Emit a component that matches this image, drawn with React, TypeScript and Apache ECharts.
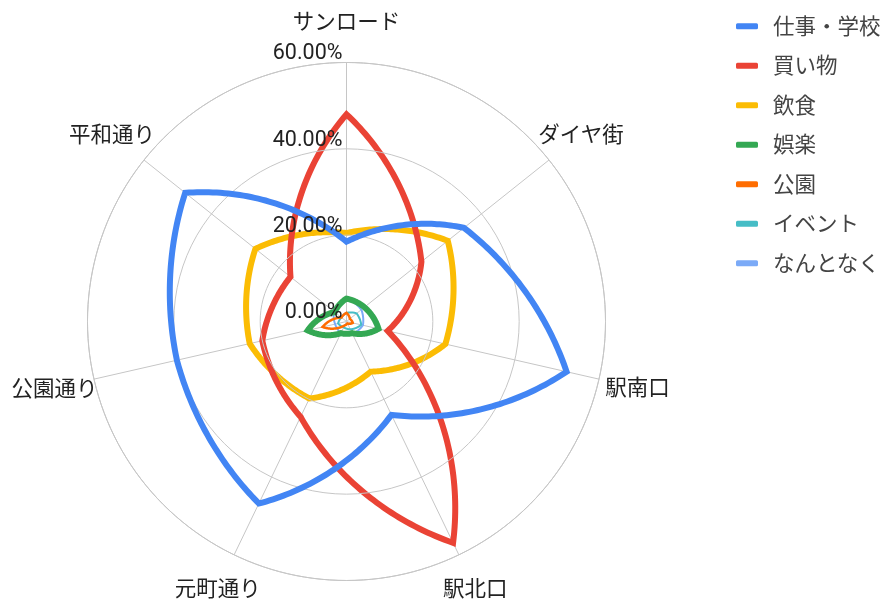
import React, { useEffect, useRef } from 'react';
import * as echarts from 'echarts';

// Axis order (clockwise from top)
const categories = ['サンロード', 'ダイヤ街', '駅南口', '駅北口', '元町通り', '公園通り', '平和通り'];
const seriesNames = ['仕事・学校', '買い物', '飲食', '娯楽', '公園', 'イベント', 'なんとなく'];

// Values in percent
const work = [18.5, 34.8, 52.3, 24.0, 46.8, 40.3, 47.8];
const shopping = [48.0, 22.2, 9.8, 56.9, 24.5, 20.0, 16.6];
const food = [20.5, 30.0, 23.5, 12.9, 19.8, 23.0, 27.0];
const entertainment = [5.3, 5.3, 7.6, 3.0, 3.0, 9.2, 3.5];
const park = [2.0, 1.0, 1.5, 0.5, 1.0, 5.7, 1.5];
const event = [2.0, 3.0, 3.5, 2.0, 1.5, 2.0, 1.5];
const nothing = [5.3, 4.4, 3.9, 3.2, 3.0, 2.7, 3.7];

const seriesValues = [work, shopping, food, entertainment, park, event, nothing];
const colors = ['#4285f4', '#ea4335', '#fbbc04', '#34a853', '#ff6d01', '#46bdc6', '#7baaf7'];
const lineWidths = [6, 6, 6, 6, 2.5, 2, 2];

const radiusMin = 0;
const radiusMax = 60;
const radiusStep = 20;

const FONT = "Roboto, 'Noto Sans CJK JP', sans-serif";
const FS = 21.5;
const R = 259;
const LABEL_DIST = [300.5, 300, 298.5, 296.5, 296.5, 299.5, 300];
const BLEND = 0.55; // how far the curve bows from chord toward the polar spiral
const GRID = '#c6c6c6';

function makeRenderItem(color: string, lw: number) {
  return (params: any, api: any) => {
    if (params.dataIndexInside !== 0) return null;
    const n = params.dataInsideLength;
    const pts: number[][] = [];
    const steps = 48;
    for (let i = 0; i < n; i++) {
      const j = (i + 1) % n;
      const r0 = api.value(0, i);
      const a0 = api.value(1, i);
      const r1 = api.value(0, j);
      const a1 = j === 0 ? n : api.value(1, j);
      const p0 = api.coord([r0, a0]);
      const p1 = api.coord([r1, a1]);
      for (let k = 0; k < steps; k++) {
        const t = k / steps;
        const sp = api.coord([r0 + (r1 - r0) * t, a0 + (a1 - a0) * t]);
        const cx = p0[0] + (p1[0] - p0[0]) * t;
        const cy = p0[1] + (p1[1] - p0[1]) * t;
        pts.push([cx + (sp[0] - cx) * BLEND, cy + (sp[1] - cy) * BLEND]);
      }
    }
    return {
      type: 'polygon',
      shape: { points: pts },
      style: { fill: 'none', stroke: color, lineWidth: lw, lineJoin: 'miter', miterLimit: 10 },
    };
  };
}

// rich styles that offset each category label (anchored at the centre) outward
const labelRich: Record<string, any> = {};
categories.forEach((_, i) => {
  const th = (i * 2 * Math.PI) / categories.length;
  const dx = LABEL_DIST[i] * Math.sin(th);
  const dy = -LABEL_DIST[i] * Math.cos(th);
  labelRich['c' + i] = {
    fontSize: FS,
    color: '#222',
    fontFamily: FONT,
    padding: [dy > 0 ? 2 * dy : 0, dx < 0 ? -2 * dx : 0, dy < 0 ? -2 * dy : 0, dx > 0 ? 2 * dx : 0],
  };
});

export default function App() {
  const ref = useRef<HTMLDivElement>(null);
  useEffect(() => {
    if (!ref.current) return;
    const chart = echarts.init(ref.current, undefined, { renderer: 'svg' });
    const option: any = {
      animation: false,
      color: colors,
      textStyle: { fontFamily: FONT },
      legend: {
        orient: 'vertical',
        left: 736,
        top: 15.5,
        padding: 0,
        itemWidth: 22,
        itemHeight: 6,
        itemGap: 18,
        icon: 'roundRect',
        selectedMode: false,
        data: seriesNames,
        textStyle: { fontSize: FS, color: '#444', lineHeight: 21, fontFamily: FONT, padding: [0, 0, 0, 10] },
      },
      polar: { center: [346.5, 321.5], radius: R },
      angleAxis: {
        type: 'value',
        min: 0,
        max: categories.length,
        interval: 1,
        startAngle: 90,
        clockwise: true,
        axisLine: { show: true, lineStyle: { color: GRID, width: 1 } },
        axisTick: { show: false },
        splitLine: { show: true, lineStyle: { color: GRID, width: 1 } },
        axisLabel: {
          formatter: (v: number) => (categories[v] ? `{c${v}|${categories[v]}}` : ''),
          margin: -R,
          rich: labelRich,
          fontSize: FS,
          color: '#222',
          fontFamily: FONT,
        },
      },
      radiusAxis: {
        type: 'value',
        min: radiusMin,
        max: radiusMax,
        interval: radiusStep,
        axisLine: { show: false },
        axisTick: { show: false },
        splitLine: { show: true, lineStyle: { color: GRID, width: 1 } },
        axisLabel: {
          formatter: (v: number) => v.toFixed(2) + '%',
          fontSize: FS,
          color: '#222',
          align: 'right',
          verticalAlign: 'bottom',
          margin: 4,
          fontFamily: FONT,
        },
        z: 10,
      },
      series: seriesValues.map((vals, s) => ({
        type: 'custom',
        name: seriesNames[s],
        coordinateSystem: 'polar',
        encode: { radius: 0, angle: 1 },
        itemStyle: { color: colors[s] },
        data: vals.map((v, i) => [v, i]),
        renderItem: makeRenderItem(colors[s], lineWidths[s]),
        z: 10 - s,
      })),
    };
    chart.setOption(option);
    return () => chart.dispose();
  }, []);
  return <div ref={ref} style={{ position: 'fixed', left: 0, top: 0, width: 882, height: 600 }} />;
}
